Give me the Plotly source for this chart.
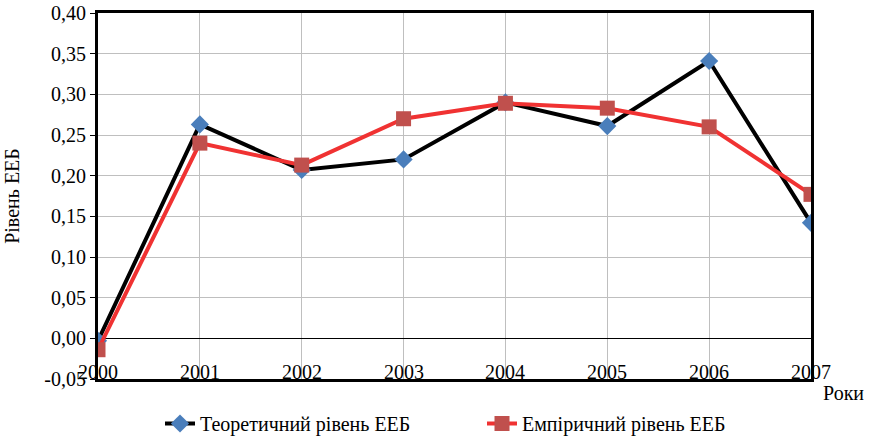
import plotly.graph_objects as go

years = [2000, 2001, 2002, 2003, 2004, 2005, 2006, 2007]
theoretical = [-0.003, 0.263, 0.207, 0.220, 0.290, 0.261, 0.341, 0.142]
empirical = [-0.014, 0.240, 0.213, 0.270, 0.289, 0.283, 0.260, 0.177]
y_ticks = [-0.05, 0.0, 0.05, 0.10, 0.15, 0.20, 0.25, 0.30, 0.35, 0.40]
y_ticktext = [f"{v:.2f}".replace(".", ",") for v in y_ticks]

font_family = "Liberation Serif"
fs = 20
W, H = 869, 443

fig = go.Figure()
fig.add_trace(go.Scatter(
    x=years, y=theoretical, mode="lines+markers",
    name="Теоретичний рівень ЕЕБ", legend="legend",
    line=dict(color="black", width=4),
    marker=dict(symbol="diamond", size=14, color="#4a7ebb"),
))
fig.add_trace(go.Scatter(
    x=years, y=empirical, mode="lines+markers",
    name="Емпіричний рівень ЕЕБ", legend="legend2",
    line=dict(color="#f03232", width=4),
    marker=dict(symbol="square", size=15, color="#c0504d"),
))

for yr in years:
    fig.add_annotation(x=yr, y=-0.05, yshift=7, text=str(yr), showarrow=False,
                       font=dict(family=font_family, size=fs, color="black"),
                       xanchor="center", yanchor="middle")

fig.add_annotation(xref="paper", yref="paper", x=1.0, y=0, xshift=10, yshift=-14,
                   text="Роки", showarrow=False, xanchor="left", yanchor="middle",
                   font=dict(family=font_family, size=fs, color="black"))

legend_common = dict(orientation="h", xanchor="left", xref="container",
                     yref="container", y=-7 / H, yanchor="bottom",
                     bgcolor="rgba(0,0,0,0)",
                     font=dict(family=font_family, size=fs))

fig.update_layout(
    width=W, height=H,
    margin=dict(l=98, r=58, t=13, b=64, autoexpand=False),
    paper_bgcolor="white", plot_bgcolor="white",
    font=dict(family=font_family, size=fs, color="black"),
    showlegend=True,
    legend=dict(x=160 / W, **legend_common),
    legend2=dict(x=482 / W, **legend_common),
    xaxis=dict(range=[2000, 2007], tickvals=years, showticklabels=False,
               showgrid=True, gridcolor="#bfbfbf", gridwidth=1,
               showline=True, linecolor="black", linewidth=3, mirror=True,
               zeroline=False, fixedrange=True, automargin=False),
    yaxis=dict(range=[-0.05, 0.40], tickvals=y_ticks, ticktext=y_ticktext,
               showgrid=True, gridcolor="#bfbfbf", gridwidth=1,
               showline=True, linecolor="black", linewidth=3, mirror=True,
               ticks="outside", ticklen=5, tickcolor="black",
               ticklabeloverflow="allow",
               zeroline=True, zerolinecolor="black", zerolinewidth=1,
               automargin=False,
               title=dict(text="Рівень ЕЕБ", standoff=20,
                          font=dict(family=font_family, size=fs)),
               tickfont=dict(family=font_family, size=fs)),
)

fig.write_html("out.html", config={"displayModeBar": False},
               post_script="document.body.style.margin='0';")
